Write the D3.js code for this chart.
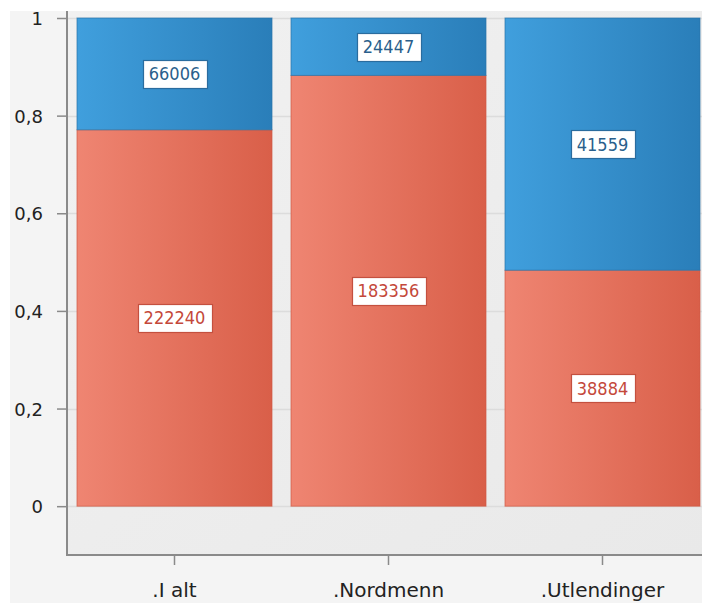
<!DOCTYPE html>
<html>
<head>
<meta charset="utf-8">
<script src="https://cdn.jsdelivr.net/npm/d3@7"></script>
<style>
  html, body { margin: 0; padding: 0; background: #ffffff; }
  svg { display: block; }
</style>
</head>
<body>
<svg id="chart" width="702" height="603"></svg>
<script>
// Categories and the two stacked series (absolute counts, shown as shares of 1)
const categories = [".I alt", ".Nordmenn", ".Utlendinger"];
const lowerSeries = [222240, 183356, 38884];
const upperSeries = [66006, 24447, 41559];
const yTickValues = [0, 0.2, 0.4, 0.6, 0.8, 1];
const yTickLabels = ["0", "0,2", "0,4", "0,6", "0,8", "1"];

const svg = d3.select("#chart");
const W = 702, H = 603;

const plot = { left: 67, top: 11, right: 712, bottom: 555 };

// Outer panel
svg.append("rect").attr("x", 10).attr("y", 11).attr("width", W - 10).attr("height", H - 11)
  .attr("fill", "#f4f4f4");

const defs = svg.append("defs");
function hGrad(id, c0, c1) {
  const g = defs.append("linearGradient").attr("id", id)
    .attr("x1", "0%").attr("y1", "0%").attr("x2", "100%").attr("y2", "0%");
  g.append("stop").attr("offset", "0%").attr("stop-color", c0);
  g.append("stop").attr("offset", "100%").attr("stop-color", c1);
}
hGrad("gradLower", "#ef8572", "#d95f49");
hGrad("gradUpper", "#409fdd", "#2a7eb9");
const bg = defs.append("linearGradient").attr("id", "gradPlot")
  .attr("x1", "0%").attr("y1", "0%").attr("x2", "100%").attr("y2", "100%");
bg.append("stop").attr("offset", "0%").attr("stop-color", "#f1f1f1");
bg.append("stop").attr("offset", "100%").attr("stop-color", "#e9e9e9");

// Plot background
svg.append("rect").attr("x", plot.left).attr("y", plot.top)
  .attr("width", plot.right - plot.left).attr("height", plot.bottom - plot.top)
  .attr("fill", "url(#gradPlot)");

const y = d3.scaleLinear().domain([-0.1, 1]).range([plot.bottom, 18]);
const x = d3.scaleBand().domain(categories).range([67, 710])
  .paddingInner(19 / 214).paddingOuter(10 / 214);

// Horizontal gridlines
svg.append("g").selectAll("line").data(yTickValues).join("line")
  .attr("x1", plot.left).attr("x2", W)
  .attr("y1", d => Math.round(y(d)) + 0.5).attr("y2", d => Math.round(y(d)) + 0.5)
  .attr("stroke", "#dcdcdc").attr("stroke-width", 1.5);

// Stack as shares of each category total
const rows = categories.map((c, i) => ({ cat: c, lower: lowerSeries[i], upper: upperSeries[i] }));
const stack = d3.stack().keys(["lower", "upper"]).offset(d3.stackOffsetExpand);
const layers = stack(rows);
const fills = { lower: "url(#gradLower)", upper: "url(#gradUpper)" };
const strokes = { lower: "#cf5a45", upper: "#2873a8" };

const barG = svg.append("g");
layers.forEach(layer => {
  barG.append("g").selectAll("rect").data(layer).join("rect")
    .attr("x", d => x(d.data.cat))
    .attr("y", d => y(d[1]))
    .attr("width", x.bandwidth())
    .attr("height", d => y(d[0]) - y(d[1]))
    .attr("fill", fills[layer.key])
    .attr("stroke", strokes[layer.key])
    .attr("stroke-opacity", 0.7)
    .attr("stroke-width", 1);
});

// Value labels
const labelStyle = {
  lower: { text: "#c4483a", border: "#c4503f" },
  upper: { text: "#2a5f8c", border: "#2a6c9e" }
};
const labelG = svg.append("g");
layers.forEach(layer => {
  layer.forEach(d => {
    const cx = x(d.data.cat) + x.bandwidth() / 2;
    const cy = (y(d[0]) + y(d[1])) / 2;
    const g = labelG.append("g");
    const t = g.append("text")
      .attr("x", cx).attr("y", cy)
      .attr("text-anchor", "middle")
      .attr("dy", "0.36em")
      .attr("font-family", "'DejaVu Sans Condensed', 'DejaVu Sans', sans-serif")
      .attr("font-size", 18)
      .attr("fill", labelStyle[layer.key].text)
      .text(d.data[layer.key]);
    const bw = t.node().getComputedTextLength() + 12;
    g.insert("rect", "text")
      .attr("x", Math.round(cx - bw / 2) + 0.5).attr("y", Math.round(cy - 14) + 0.5)
      .attr("width", Math.round(bw)).attr("height", 28)
      .attr("fill", "#ffffff")
      .attr("stroke", labelStyle[layer.key].border)
      .attr("stroke-width", 1.2);
  });
});

// Axes
const axisColor = "#8a8a8a";
const yAxis = svg.append("g").attr("transform", `translate(${plot.left},0)`)
  .call(d3.axisLeft(y).tickValues(yTickValues).tickSize(10).tickPadding(14)
    .tickFormat((d, i) => yTickLabels[i]));
yAxis.select(".domain").remove();
yAxis.selectAll(".tick line").attr("stroke", axisColor).attr("stroke-width", 1.5);
yAxis.selectAll(".tick text")
  .attr("font-family", "'DejaVu Sans', sans-serif").attr("font-size", 18)
  .attr("fill", "#222").attr("dy", "0.36em");
svg.append("line").attr("x1", plot.left).attr("x2", plot.left)
  .attr("y1", plot.top).attr("y2", plot.bottom + 1)
  .attr("stroke", axisColor).attr("stroke-width", 2);

const xAxis = svg.append("g").attr("transform", `translate(0,${plot.bottom})`)
  .call(d3.axisBottom(x).tickSize(10).tickPadding(18));
xAxis.select(".domain").remove();
xAxis.selectAll(".tick line").attr("stroke", axisColor).attr("stroke-width", 1.5);
xAxis.selectAll(".tick text")
  .attr("font-family", "'DejaVu Sans', sans-serif").attr("font-size", 20)
  .attr("fill", "#222").attr("dy", "0.71em");
svg.append("line").attr("x1", plot.left).attr("x2", W)
  .attr("y1", plot.bottom).attr("y2", plot.bottom)
  .attr("stroke", axisColor).attr("stroke-width", 2);
</script>
</body>
</html>
